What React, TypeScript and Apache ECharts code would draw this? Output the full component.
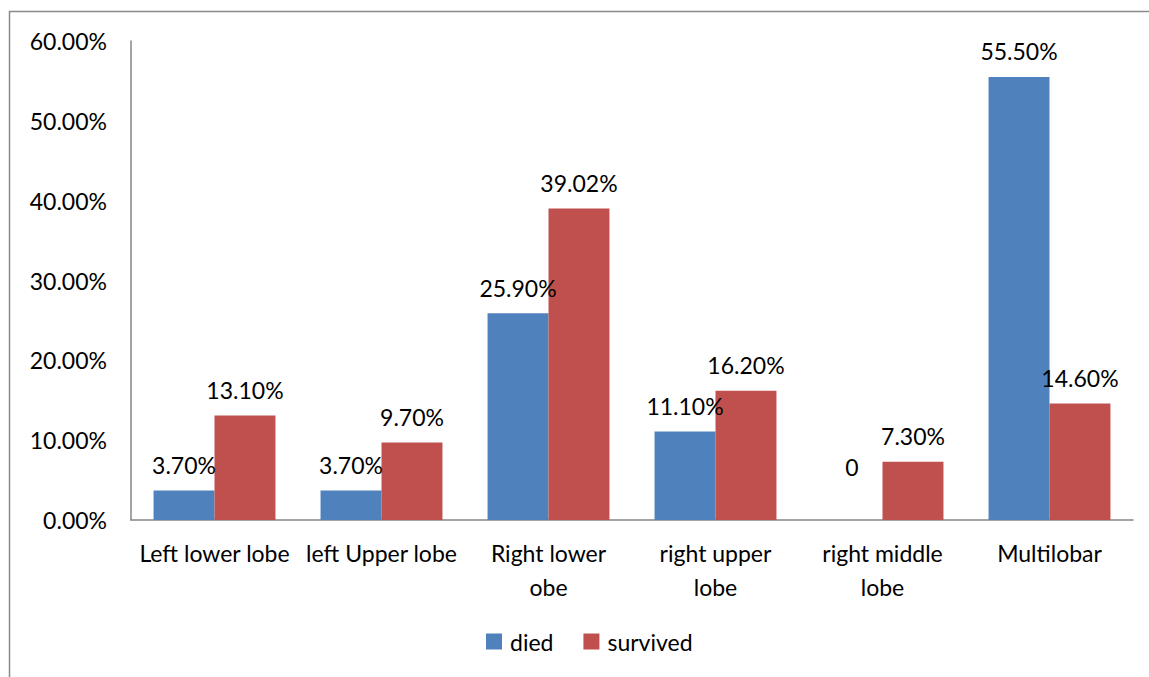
import React, { useEffect, useRef } from "react";
import * as echarts from "echarts";

const categories = [
  "Left lower lobe",
  "left Upper lobe",
  "Right lower\nobe",
  "right upper\nlobe",
  "right middle\nlobe",
  "Multilobar",
];
const died = [3.7, 3.7, 25.9, 11.1, 0, 55.5];
const survived = [13.1, 9.7, 39.02, 16.2, 7.3, 14.6];
const diedLabels = ["3.70%", "3.70%", "25.90%", "11.10%", "0", "55.50%"];
const survivedLabels = ["13.10%", "9.70%", "39.02%", "16.20%", "7.30%", "14.60%"];
const yTicks = [0, 10, 20, 30, 40, 50, 60];

const FONT = "Lato, 'Open Sans', sans-serif";
const FS = 23;

export default function App() {
  const ref = useRef<HTMLDivElement>(null);
  useEffect(() => {
    document.body.style.margin = "0";
    const chart = echarts.init(ref.current!, null, { renderer: "svg" });
    const labelBase = {
      show: true,
      position: "top",
      distance: 14,
      fontFamily: FONT,
      fontSize: FS,
      color: "#000",
    };
    chart.setOption({
      animation: false,
      backgroundColor: "#fff",
      textStyle: { fontFamily: FONT },
      graphic: [
        {
          type: "rect",
          shape: { x: 9.5, y: 11.5, width: 1300, height: 800 },
          style: { fill: "none", stroke: "#8a8a8a", lineWidth: 1.5 },
          silent: true,
        },
      ],
      grid: { left: 131, right: 16, top: 41, bottom: 157, containLabel: false },
      legend: {
        bottom: 19,
        left: 481,
        icon: "rect",
        itemWidth: 16,
        itemHeight: 16,
        itemGap: 30,
        textStyle: { fontFamily: FONT, fontSize: FS, color: "#000", padding: [0, 0, 0, 3] },
        data: ["died", "survived"],
      },
      xAxis: {
        type: "category",
        data: categories,
        axisLine: { lineStyle: { color: "#868686", width: 1.5 } },
        axisTick: { show: false },
        axisLabel: {
          interval: 0,
          margin: 16,
          fontFamily: FONT,
          fontSize: FS,
          lineHeight: 34,
          color: "#000",
        },
      },
      yAxis: {
        type: "value",
        min: yTicks[0],
        max: yTicks[yTicks.length - 1],
        interval: 10,
        splitLine: { show: false },
        axisLine: { show: true, lineStyle: { color: "#868686", width: 1.5 } },
        axisTick: { show: false },
        axisLabel: {
          margin: 24,
          fontFamily: FONT,
          fontSize: FS,
          color: "#000",
          formatter: (v: number) => v.toFixed(2) + "%",
        },
      },
      series: [
        {
          name: "died",
          type: "bar",
          barGap: "0%",
          barCategoryGap: "27%",
          itemStyle: { color: "#4F81BD" },
          label: { ...labelBase, formatter: (p: any) => diedLabels[p.dataIndex] },
          data: died.map((v) => (v === 0 ? { value: v, label: { distance: 42 } } : v)),
        },
        {
          name: "survived",
          type: "bar",
          barGap: "0%",
          barCategoryGap: "27%",
          itemStyle: { color: "#C0504D" },
          label: { ...labelBase, formatter: (p: any) => survivedLabels[p.dataIndex] },
          data: survived,
        },
      ],
    });
    return () => chart.dispose();
  }, []);
  return (
    <div
      ref={ref}
      style={{ width: 1149, height: 677, position: "absolute", left: 0, top: 0 }}
    />
  );
}
